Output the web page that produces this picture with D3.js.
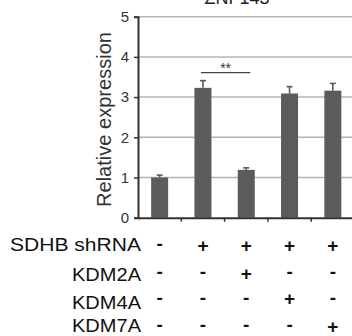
<!DOCTYPE html>
<html>
<head>
<meta charset="utf-8">
<script src="https://cdn.jsdelivr.net/npm/d3@7"></script>
<style>
  body { margin: 0; background: #fff; }
  svg { font-family: "Liberation Sans", Arial, sans-serif; }
</style>
</head>
<body>
<div id="chart"></div>
<script>
// values
const conditions = ['ctrl', 'sh', 'sh+KDM2A', 'sh+KDM4A', 'sh+KDM7A'];
const expression = [1.0, 3.23, 1.19, 3.09, 3.16];
const errors = [0.06, 0.18, 0.05, 0.17, 0.18];
const yTicks = [0, 1, 2, 3, 4, 5];
const rowLabels = ['SDHB shRNA', 'KDM2A', 'KDM4A', 'KDM7A'];
const sdhb = ['-', '+', '+', '+', '+'];
const kdm2a = ['-', '-', '+', '-', '-'];
const kdm4a = ['-', '-', '-', '+', '-'];
const kdm7a = ['-', '-', '-', '-', '+'];
const title = 'ZNF143';

const width = 352, height = 336;
const plotLeft = 138, plotRight = 354.5, plotTop = 16.7, plotBottom = 217.7;

const svg = d3.select('#chart').append('svg')
  .attr('width', width).attr('height', height);

const x = d3.scaleBand().domain(conditions).range([plotLeft, plotRight]).padding(0);
const y = d3.scaleLinear().domain([0, 5]).range([plotBottom, plotTop]);
const barW = 17;

// title, mostly cut off at the top (as in the source figure)
svg.append('text')
  .attr('x', 237).attr('y', 4)
  .attr('text-anchor', 'middle')
  .attr('font-size', 18)
  .attr('fill', '#222')
  .text(title);

// gridlines
svg.append('g')
  .selectAll('line')
  .data(yTicks.filter(d => d > 0))
  .join('line')
  .attr('x1', plotLeft).attr('x2', width)
  .attr('y1', d => y(d)).attr('y2', d => y(d))
  .attr('stroke', '#b4b4b4')
  .attr('stroke-width', 1.5);

// bars
svg.append('g')
  .selectAll('rect')
  .data(conditions)
  .join('rect')
  .attr('x', d => x(d) + (x.bandwidth() - barW) / 2)
  .attr('width', barW)
  .attr('y', (d, i) => y(expression[i]))
  .attr('height', (d, i) => y(0) - y(expression[i]))
  .attr('fill', '#5b5b5b');

// error bars
const err = svg.append('g').attr('stroke', '#5b5b5b').attr('stroke-width', 1.6);
conditions.forEach((c, i) => {
  const cx = x(c) + x.bandwidth() / 2;
  err.append('line')
    .attr('x1', cx).attr('x2', cx)
    .attr('y1', y(expression[i])).attr('y2', y(expression[i] + errors[i]));
  err.append('line')
    .attr('x1', cx - 3).attr('x2', cx + 3)
    .attr('y1', y(expression[i] + errors[i])).attr('y2', y(expression[i] + errors[i]));
});

// y axis
const yAxis = svg.append('g')
  .attr('transform', `translate(${plotLeft},0)`)
  .call(d3.axisLeft(y).tickValues(yTicks).tickFormat(d3.format('d')).tickSize(4).tickPadding(5));
yAxis.select('.domain').attr('stroke', '#333').attr('stroke-width', 2);
yAxis.selectAll('.tick line').attr('stroke', '#333').attr('stroke-width', 1.5);
yAxis.selectAll('.tick text')
  .attr('font-size', 15)
  .attr('font-family', '"Liberation Sans", Arial, sans-serif')
  .attr('fill', '#333');

// x axis
const xAxis = svg.append('g')
  .attr('transform', `translate(0,${plotBottom})`)
  .call(d3.axisBottom(x).tickSize(0).tickFormat(''));
xAxis.select('.domain').attr('stroke', '#333').attr('stroke-width', 2);
xAxis.append('g')
  .selectAll('line')
  .data(conditions)
  .join('line')
  .attr('x1', d => x(d) + x.bandwidth()).attr('x2', d => x(d) + x.bandwidth())
  .attr('y1', 0).attr('y2', 4)
  .attr('stroke', '#333').attr('stroke-width', 1.5);

// y axis title
svg.append('text')
  .attr('transform', `translate(111,${(32 + 207) / 2}) rotate(-90)`)
  .attr('text-anchor', 'middle')
  .attr('font-size', 20)
  .attr('textLength', 175)
  .attr('lengthAdjust', 'spacingAndGlyphs')
  .attr('fill', '#333')
  .text('Relative expression');

// significance marker between bar 2 and bar 3
const c2 = x(conditions[1]) + x.bandwidth() / 2;
const c3 = x(conditions[2]) + x.bandwidth() / 2;
svg.append('line')
  .attr('x1', c2 - 2).attr('x2', c3 + 4)
  .attr('y1', 72.7).attr('y2', 72.7)
  .attr('stroke', '#444').attr('stroke-width', 1.2);
svg.append('text')
  .attr('x', (c2 + c3) / 2 + 1).attr('y', 73)
  .attr('text-anchor', 'middle')
  .attr('font-size', 14)
  .attr('fill', '#333')
  .text('**');

// condition table below the axis
const rows = [sdhb, kdm2a, kdm4a, kdm7a];
const labelBase = [251, 281, 309.3, 332];
const signMid = [245.3, 273.3, 298.5, 326.3];
const labelWidths = [131, 69, 69, 69];
const fs = 19;
rows.forEach((signs, r) => {
  svg.append('text')
    .attr('x', 141).attr('y', labelBase[r])
    .attr('text-anchor', 'end')
    .attr('font-size', fs)
    .attr('textLength', labelWidths[r])
    .attr('lengthAdjust', 'spacingAndGlyphs')
    .attr('fill', '#111')
    .text(rowLabels[r]);
  svg.append('g')
    .selectAll('text')
    .data(conditions)
    .join('text')
    .attr('x', d => x(d) + x.bandwidth() / 2)
    // '+' sits higher on the baseline than '-', so centre each glyph on the row
    .attr('y', (d, i) => signMid[r] + (signs[i] === '+' ? 0.353 : 0.27) * fs)
    .attr('text-anchor', 'middle')
    .attr('font-size', fs)
    .attr('font-weight', 'bold')
    .attr('fill', '#111')
    .text((d, i) => signs[i]);
});
</script>
</body>
</html>
